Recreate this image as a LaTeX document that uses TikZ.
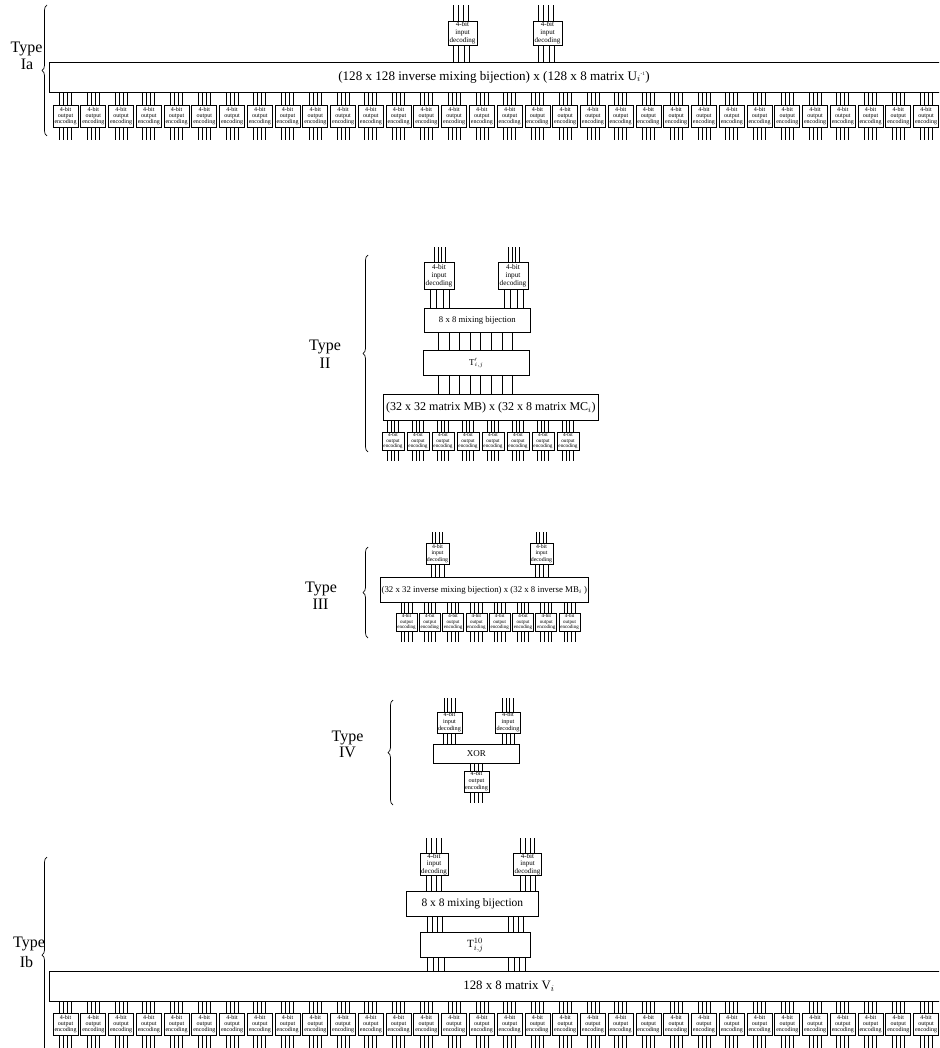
\documentclass[tikz,border=0pt]{standalone}
\usepackage{fontspec}
\setmainfont{Liberation Serif}
\usetikzlibrary{decorations.pathreplacing,calc}
\tikzset{
  box/.style={draw, line width=0.8pt, inner sep=0pt, align=center, fill=white},
  wire/.style={line width=0.8pt},
  brc/.style={decorate, decoration={brace, amplitude=5pt}, line width=0.7pt},
  typelbl/.style={font=\fontsize{16}{17}\selectfont, anchor=base, inner sep=0pt},
  encIa/.style={box, minimum width=25pt, minimum height=22pt, font=\fontsize{6}{6}\selectfont},
  decIa/.style={box, minimum width=29pt, minimum height=24pt, font=\fontsize{7}{7.8}\selectfont},
  decII/.style={box, minimum width=30pt, minimum height=27pt, font=\fontsize{7.3}{8}\selectfont},
  encII/.style={box, minimum width=22pt, minimum height=18pt, font=\fontsize{5.2}{5.5}\selectfont},
  decIII/.style={box, minimum width=23pt, minimum height=21pt, font=\fontsize{5.8}{6.5}\selectfont},
  encIII/.style={box, minimum width=21pt, minimum height=18pt, font=\fontsize{5}{5.5}\selectfont},
  decIV/.style={box, minimum width=25pt, minimum height=21pt, font=\fontsize{6.2}{7}\selectfont},
  decIb/.style={box, minimum width=28pt, minimum height=22pt, font=\fontsize{7}{7.5}\selectfont},
}
\begin{document}
\begin{tikzpicture}[x=1pt, y=-1pt]
\useasboundingbox (0,0) rectangle (939,1048);
\clip (0,0) rectangle (939,1048);
\fill[white] (0,0) rectangle (939,1048);

% ================= Type Ia =================
\draw[brc] (47,136) -- (47,5);
\node[typelbl] (tIa1) at (26.5,53) {Type};
\node[typelbl] (tIa2) at (27,70) {Ia};
\node[box, anchor=north west, minimum width=900pt, minimum height=30pt] (Ia) at (49,62) {};
\node[font=\fontsize{13.1}{14}\selectfont, inner sep=0pt] (IaT) at (494,77) {(128 x 128 inverse mixing bijection) x (128 x 8 matrix U$_i{}^{\mbox{\tiny -1}}$)};
\foreach \n/\cx in {1/462.5, 2/547.5} {
  \node[decIa] (ia\n) at (\cx,33) {4-bit\\input\\decoding};
  \foreach \d in {-1.5,-0.5,0.5,1.5} {
    \draw[wire] ([xshift=\d*5pt-1.5pt]ia\n.north) -- ++(0,-16);
    \draw[wire] ([xshift=\d*5.5pt-1pt]ia\n.south) -- ([xshift=\d*5.5pt-1pt]ia\n.south |- Ia.north);
  }
}
\foreach \i in {0,...,31} {
  \pgfmathsetmacro\cx{65.5+27.76*\i}
  \node[encIa] (oa\i) at (\cx,116) {4-bit\\output\\encoding};
  \foreach \d in {-1.5,-0.5,0.5,1.5} {
    \draw[wire] ([xshift=\d*4pt]oa\i.north) -- ([xshift=\d*4pt]oa\i.north |- Ia.south);
    \draw[wire] ([xshift=\d*4pt]oa\i.south) -- ++(0,13);
  }
}

% ================= Type II =================
\draw[brc] (368,452) -- (368,255);
\node[typelbl] (tII1) at (325,350) {Type};
\node[typelbl] (tII2) at (325,368) {II};
\foreach \n/\cx in {1/439, 2/513} {
  \node[decII] (iII\n) at (\cx,275.5) {4-bit\\input\\decoding};
}
\node[box, anchor=north west, minimum width=106pt, minimum height=24pt, font=\fontsize{8.7}{10}\selectfont] (mixII) at (424,308) {8 x 8 mixing bijection};
\node[box, anchor=north west, minimum width=106pt, minimum height=25pt, font=\fontsize{9}{10}\selectfont] (TII) at (423,350) {$\mathrm{T}^{\prime}_{i,j}$};
\node[box, anchor=north west, minimum width=215pt, minimum height=26pt, font=\fontsize{12}{13}\selectfont] (II) at (383,394) {(32 x 32 matrix MB) x (32 x 8 matrix MC$_i$)};
\foreach \n in {1,2} {
  \foreach \d in {-1.5,-0.5,0.5,1.5} {
    \draw[wire] ([xshift=\d*3.5pt+1pt]iII\n.north) -- ++(0,-15);
    \draw[wire] ([xshift=\d*6.3pt+1pt]iII\n.south) -- ([xshift=\d*6.3pt+1pt]iII\n.south |- mixII.north);
  }
}
\foreach \k in {0,...,7} {
  \draw[wire] ([xshift=(\k-3.5)*10.6pt-2pt]mixII.south) -- ([xshift=(\k-3.5)*10.6pt-2pt]mixII.south |- TII.north);
  \draw[wire] ([xshift=(\k-3.5)*10.6pt-1pt]TII.south) -- ([xshift=(\k-3.5)*10.6pt-1pt]TII.south |- II.north);
}
\foreach \i in {0,...,7} {
  \pgfmathsetmacro\cx{393+25*\i}
  \node[encII] (oII\i) at (\cx,441) {4-bit\\output\\encoding};
  \foreach \d in {-1.5,-0.5,0.5,1.5} {
    \draw[wire] ([xshift=\d*3.5pt]oII\i.north) -- ([xshift=\d*3.5pt]oII\i.north |- II.south);
    \draw[wire] ([xshift=\d*3.5pt]oII\i.south) -- ++(0,11);
  }
}

% ================= Type III =================
\draw[brc] (368,638) -- (368,547);
\node[typelbl] (tIII1) at (321,592) {Type};
\node[typelbl] (tIII2) at (320.5,609) {III};
\node[box, anchor=north west, minimum width=208pt, minimum height=25pt, font=\fontsize{8.8}{10}\selectfont] (III) at (380,577) {(32 x 32 inverse mixing bijection) x (32 x 8 inverse MB$_i$ )};
\foreach \n/\cx in {1/437.5, 2/541.5} {
  \node[decIII] (iIII\n) at (\cx,553.5) {4-bit\\input\\decoding};
  \foreach \d in {-1.5,-0.5,0.5,1.5} {
    \draw[wire] ([xshift=\d*3.5pt]iIII\n.north) -- ++(0,-11);
    \draw[wire] ([xshift=\d*4.4pt]iIII\n.south) -- ([xshift=\d*4.4pt]iIII\n.south |- III.north);
  }
}
\foreach \i in {0,...,7} {
  \pgfmathsetmacro\cx{406.5+23.3*\i}
  \node[encIII] (oIII\i) at (\cx,622) {4-bit\\output\\encoding};
  \foreach \d in {-1.5,-0.5,0.5,1.5} {
    \draw[wire] ([xshift=\d*3.7pt]oIII\i.north) -- ([xshift=\d*3.7pt]oIII\i.north |- III.south);
    \draw[wire] ([xshift=\d*3.7pt]oIII\i.south) -- ++(0,11);
  }
}

% ================= Type IV =================
\draw[brc] (393,805) -- (393,700);
\node[typelbl] (tIV1) at (347.5,741) {Type};
\node[typelbl] (tIV2) at (347.5,757) {IV};
\node[box, anchor=north west, minimum width=86pt, minimum height=19pt, font=\fontsize{9}{10}\selectfont] (xor) at (433,744) {XOR};
\foreach \n/\cx in {1/449.5, 2/508} {
  \node[decIV] (iIV\n) at (\cx,722.5) {4-bit\\input\\decoding};
  \foreach \d in {-1.5,-0.5,0.5,1.5} {
    \draw[wire] ([xshift=\d*3.7pt]iIV\n.north) -- ++(0,-14);
    \draw[wire] ([xshift=\d*4pt]iIV\n.south) -- ([xshift=\d*4pt]iIV\n.south |- xor.north);
  }
}
\node[decIV] (oIV) at (476.5,781.5) {4-bit\\output\\encoding};
\foreach \d in {-1.5,-0.5,0.5,1.5} {
  \draw[wire] ([xshift=\d*4.2pt]oIV.north) -- ([xshift=\d*4.2pt]oIV.north |- xor.south);
  \draw[wire] ([xshift=\d*4.2pt]oIV.south) -- ++(0,11);
}

% ================= Type Ib =================
\draw[brc] (47,1053) -- (47,857);
\node[typelbl] (tIb1) at (29,947.5) {Type};
\node[typelbl] (tIb2) at (26.5,967) {Ib};
\node[box, anchor=north west, minimum width=900pt, minimum height=30pt] (Ib) at (49,971) {};
\node[font=\fontsize{12.8}{14}\selectfont, inner sep=0pt] (IbT) at (509,986) {128 x 8 matrix V$_i$};
\node[box, anchor=north west, minimum width=132pt, minimum height=25pt, font=\fontsize{11.5}{13}\selectfont] (mixIb) at (406,891) {8 x 8 mixing bijection};
\node[box, anchor=north west, minimum width=110pt, minimum height=25pt, font=\fontsize{11}{12}\selectfont] (TIb) at (420,932) {$\mathrm{T}^{10}_{i,j}$};
\foreach \n/\cx in {1/434, 2/527.5} {
  \node[decIb] (iIb\n) at (\cx,864) {4-bit\\input\\decoding};
  \foreach \d in {-1.5,-0.5,0.5,1.5} {
    \draw[wire] ([xshift=\d*4.8pt]iIb\n.north) -- ++(0,-15);
    \draw[wire] ([xshift=\d*5pt]iIb\n.south) -- ([xshift=\d*5pt]iIb\n.south |- mixIb.north);
  }
}
\foreach \d in {-1.5,-0.5,0.5,1.5} {
  \draw[wire] ([xshift=\d*5pt-37.5pt]mixIb.south) -- ([xshift=\d*5pt-37.5pt]mixIb.south |- TIb.north);
  \draw[wire] ([xshift=\d*5pt+43pt]mixIb.south) -- ([xshift=\d*5pt+43pt]mixIb.south |- TIb.north);
  \draw[wire] ([xshift=\d*5.5pt-39.5pt]TIb.south) -- ([xshift=\d*5.5pt-39.5pt]TIb.south |- Ib.north);
  \draw[wire] ([xshift=\d*5.5pt+41.5pt]TIb.south) -- ([xshift=\d*5.5pt+41.5pt]TIb.south |- Ib.north);
}
\foreach \i in {0,...,31} {
  \pgfmathsetmacro\cx{65.5+27.76*\i}
  \node[encIa] (ob\i) at (\cx,1024) {4-bit\\output\\encoding};
  \foreach \d in {-1.5,-0.5,0.5,1.5} {
    \draw[wire] ([xshift=\d*4pt]ob\i.north) -- ([xshift=\d*4pt]ob\i.north |- Ib.south);
    \draw[wire] ([xshift=\d*4pt]ob\i.south) -- ++(0,13);
  }
}
\end{tikzpicture}
\end{document}
